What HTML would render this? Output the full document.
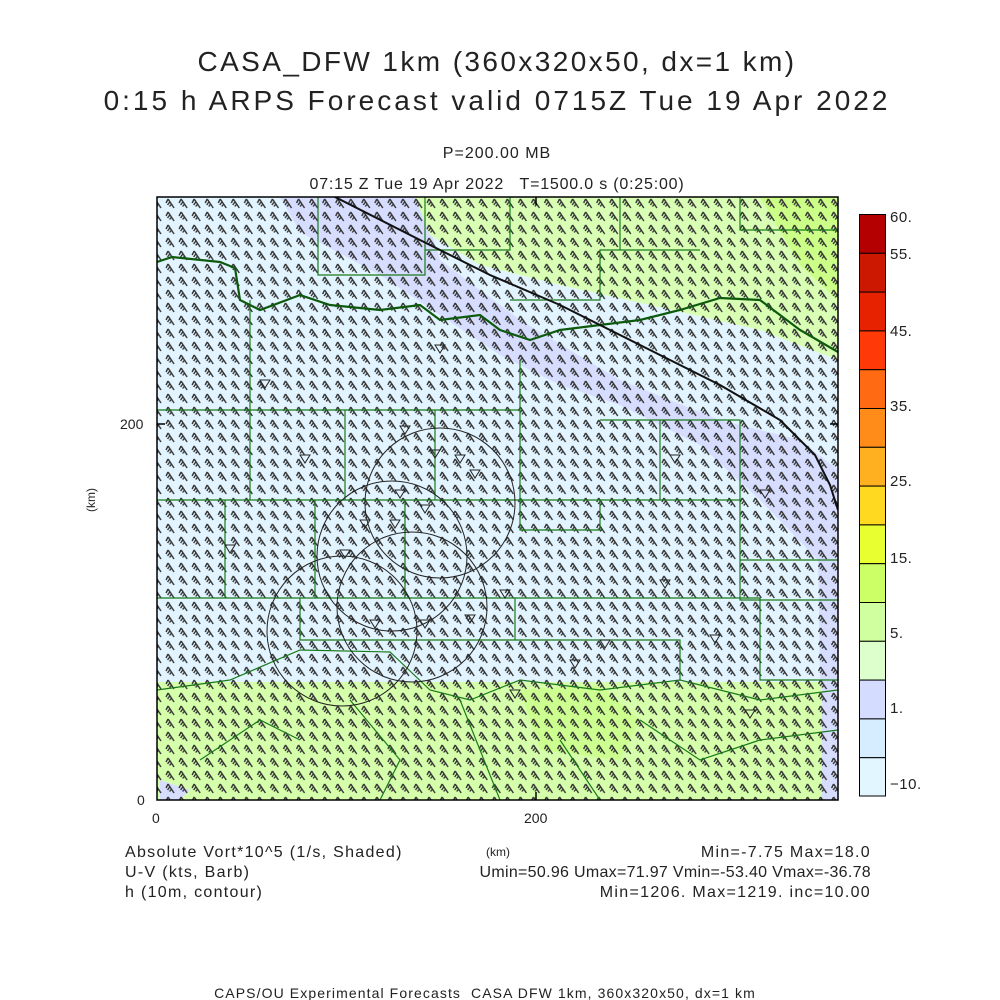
<!DOCTYPE html>
<html><head><meta charset="utf-8"><style>
html,body{margin:0;padding:0;background:#fff;}
svg{display:block;font-family:"Liberation Sans",sans-serif;}
text{white-space:pre;}
</style></head><body>
<svg width="1000" height="1000" viewBox="0 0 1000 1000" xmlns="http://www.w3.org/2000/svg">
<defs>
<pattern id="barb" x="151" y="197" width="13.05" height="13" patternUnits="userSpaceOnUse">
<g stroke="#333" stroke-width="1.4" fill="none">
<path d="M10,11 L4,2 M4,2 L2,6 M6,4.5 L3.5,8 M7.5,7 L5.5,9.5"/>
</g>
</pattern>
<clipPath id="pc"><rect x="157" y="197" width="681" height="603"/></clipPath>
</defs>
<rect width="1000" height="1000" fill="#fff"/>
<g font-size="28" fill="#222" text-anchor="middle" font-weight="300">
<text x="497" y="71" letter-spacing="2.4">CASA_DFW 1km (360x320x50, dx=1 km)</text>
<text x="497" y="110" letter-spacing="3">0:15 h ARPS Forecast valid 0715Z Tue 19 Apr 2022</text>
</g>
<g font-size="16" fill="#222" text-anchor="middle">
<text x="497" y="158" letter-spacing="1">P=200.00 MB</text>
<text x="497" y="189" letter-spacing="0.8">07:15 Z Tue 19 Apr 2022   T=1500.0 s (0:25:00)</text>
</g>
<g clip-path="url(#pc)">
<rect x="157" y="197" width="681" height="603" fill="#e2f4ff"/>
<path d="M280,197 L420,197 L440,260 L520,320 L620,380 L720,420 L800,440 L838,470 L838,800 L822,800 L818,560 L760,500 L700,445 L620,405 L560,385 L500,355 L440,315 L380,275 L300,232 Z" fill="#d6ddff"/>
<path d="M415,197 L838,197 L838,360 L760,330 L650,305 L560,285 L480,265 L430,235 Z" fill="#d8ffb4"/>
<path d="M760,197 L838,197 L838,300 L800,265 Z" fill="#ccff88"/>
<path d="M157,682 L822,682 L822,800 L157,800 Z" fill="#d6ffac"/>
<path d="M520,690 L600,685 L640,720 L620,760 L540,750 Z" fill="#ccff90"/>
<path d="M160,780 L190,790 L180,800 L160,800 Z" fill="#d6ddff"/>
<rect x="157" y="197" width="681" height="603" fill="url(#barb)"/>
<g stroke="#1a7a1a" stroke-width="1.2" fill="none">
<path d="M318,197 V275 H425 V197 M425,250 H510 V197 M510,300 H600 V250 H700 M620,197 V250 M740,197 V230 H838"/>
<path d="M157,410 H520 M250,300 V500 M345,410 V500 M435,410 V500 M520,360 V530 H600 V500 H660 V420 M157,500 H600 M225,500 V598 M315,500 V598 M405,500 V598 M157,598 H760 M660,500 H740 V600 H838 M740,560 H838 M515,598 V640 H680 V680 M300,598 V640 H515 M760,598 V680 H838 M600,420 H740 V500"/>
<path d="M157,690 L230,680 L300,650 L390,652 L430,690 L470,700 L520,680 L600,690 L680,680 L760,700 L838,690 M200,760 L260,720 L300,740 M350,700 L400,760 L380,800 M460,700 L500,800 M640,720 L700,760 L760,740 L838,730 M560,740 L600,800"/>
</g>
<path d="M157,262 L172,257 L220,262 L235,268 L240,300 L260,310 L300,295 L330,305 L380,310 L420,305 L440,320 L480,315 L500,330 L530,340 L560,330 L600,325 L640,320 L680,310 L720,298 L760,300 L800,330 L838,352" stroke="#0d5a0d" stroke-width="2.2" fill="none"/>
<path d="M335,197 L420,240 L490,275 L560,305 L640,345 L720,385 L780,420 L815,455 L830,485 L838,510" stroke="#111" stroke-width="2" fill="none"/>
<g stroke="#222" stroke-width="1" fill="none">
<circle cx="440" cy="503" r="75"/>
<circle cx="392" cy="556" r="75"/>
<circle cx="412" cy="607" r="75"/>
<circle cx="342" cy="631" r="75"/>
</g>
<g stroke="#222" stroke-width="1" fill="none">
<path d="M400,426 l5,8 l5,-8 z M430,450 l5,8 l5,-8 z M455,455 l5,8 l5,-8 z M470,470 l5,8 l5,-8 z M395,490 l5,8 l5,-8 z M390,520 l5,8 l5,-8 z M360,520 l5,8 l5,-8 z M420,505 l5,8 l5,-8 z M340,550 l5,8 l5,-8 z M370,620 l5,8 l5,-8 z M420,620 l5,8 l5,-8 z M465,615 l5,8 l5,-8 z M500,590 l5,8 l5,-8 z M600,640 l5,8 l5,-8 z M710,635 l5,8 l5,-8 z M660,580 l5,8 l5,-8 z M225,545 l5,8 l5,-8 z M300,455 l5,8 l5,-8 z M435,345 l5,8 l5,-8 z M670,455 l5,8 l5,-8 z M760,490 l5,8 l5,-8 z M510,690 l5,8 l5,-8 z M745,710 l5,8 l5,-8 z M260,380 l5,8 l5,-8 z M570,660 l5,8 l5,-8 z"/>
</g>
</g>
<rect x="157" y="197" width="681" height="603" fill="none" stroke="#000" stroke-width="1.5"/>
<g stroke="#000" stroke-width="1.5">
<path d="M157,424 h8 M838,424 h-8 M536,800 v-8 M536,197 v8"/>
</g>
<g font-size="14" fill="#222">
<text x="120" y="429">200</text>
<text x="137" y="805">0</text>
<text x="152" y="823">0</text>
<text x="524" y="823">200</text>
<text x="90" y="505" font-size="12" transform="rotate(-90 90 500)" text-anchor="middle">(km)</text>
<text x="486" y="856" font-size="12">(km)</text>
</g>
<g stroke="#000" stroke-width="1">
<rect x="859.5" y="214.5" width="26" height="38.8" fill="#b40000"/>
<rect x="859.5" y="253.3" width="26" height="38.8" fill="#cc1800"/>
<rect x="859.5" y="292.1" width="26" height="38.8" fill="#e62200"/>
<rect x="859.5" y="330.9" width="26" height="38.8" fill="#ff3a08"/>
<rect x="859.5" y="369.7" width="26" height="38.8" fill="#ff6a12"/>
<rect x="859.5" y="408.5" width="26" height="38.8" fill="#ff8c18"/>
<rect x="859.5" y="447.3" width="26" height="38.8" fill="#ffb020"/>
<rect x="859.5" y="486.1" width="26" height="38.8" fill="#ffd820"/>
<rect x="859.5" y="524.9" width="26" height="38.8" fill="#e8ff30"/>
<rect x="859.5" y="563.7" width="26" height="38.8" fill="#ccff66"/>
<rect x="859.5" y="602.5" width="26" height="38.8" fill="#d0ffa0"/>
<rect x="859.5" y="641.3" width="26" height="38.8" fill="#dcffcc"/>
<rect x="859.5" y="680.1" width="26" height="38.8" fill="#d4dcff"/>
<rect x="859.5" y="718.9" width="26" height="38.8" fill="#d6ecff"/>
<rect x="859.5" y="757.7" width="26" height="38.3" fill="#e2f6ff"/>
</g>
<g font-size="15" fill="#222" letter-spacing="0.5">
<text x="890" y="222">60.</text>
<text x="890" y="259">55.</text>
<text x="890" y="336">45.</text>
<text x="890" y="411">35.</text>
<text x="890" y="486">25.</text>
<text x="890" y="563">15.</text>
<text x="890" y="638">5.</text>
<text x="890" y="713">1.</text>
<text x="890" y="789">−10.</text>
</g>
<g font-size="16" fill="#222" letter-spacing="1.3">
<text x="125" y="857">Absolute Vort*10^5 (1/s, Shaded)</text>
<text x="125" y="877">U-V (kts, Barb)</text>
<text x="125" y="897">h (10m, contour)</text>
<g text-anchor="end">
<text x="871" y="857">Min=-7.75 Max=18.0</text>
<text x="871" y="877" letter-spacing="0.3">Umin=50.96 Umax=71.97 Vmin=-53.40 Vmax=-36.78</text>
<text x="871" y="897">Min=1206. Max=1219. inc=10.00</text>
</g>
<text x="485" y="998" font-size="14" text-anchor="middle" letter-spacing="1.1">CAPS/OU Experimental Forecasts  CASA DFW 1km, 360x320x50, dx=1 km</text>
</g>
</svg>
</body></html>
